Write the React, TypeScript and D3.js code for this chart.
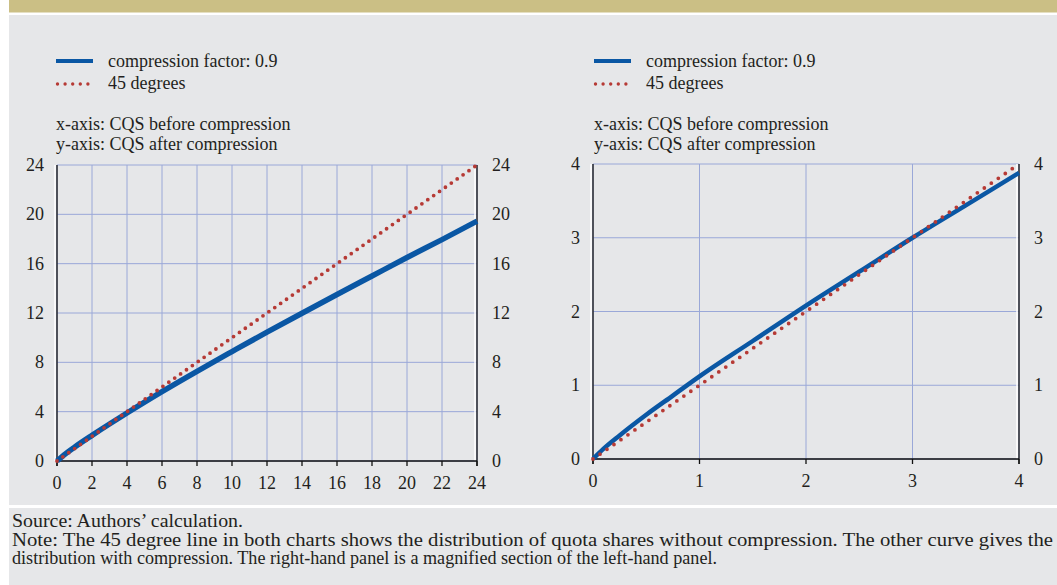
import React from 'react';
import * as d3 from 'd3';

// values
const leftX = [0, 0.5, 1, 2, 3, 4, 6, 8, 10, 12, 14, 16, 18, 20, 22, 24];
const leftY = [0, 0.6, 1.12, 2.08, 3.0, 3.89, 5.62, 7.27, 8.87, 10.45, 11.98, 13.5, 15.0, 16.5, 17.95, 19.45];
const rightX = [0, 0.1, 0.25, 0.5, 0.75, 1, 1.5, 2, 2.5, 3, 3.5, 4];
const rightY = [0, 0.14, 0.32, 0.6, 0.86, 1.12, 1.6, 2.08, 2.54, 3.0, 3.44, 3.88];
const leftTicksX = [0, 2, 4, 6, 8, 10, 12, 14, 16, 18, 20, 22, 24];
const leftTicksY = [0, 4, 8, 12, 16, 20, 24];
const rightTicksX = [0, 1, 2, 3, 4];
const rightTicksY = [0, 1, 2, 3, 4];
const seriesNames = ['compression factor: 0.9', '45 degrees'];
const axisNotes = ['x-axis: CQS before compression', 'y-axis: CQS after compression'];
const footerLines = [
  'Source: Authors\u2019 calculation.',
  'Note: The 45 degree line in both charts shows the distribution of quota shares without compression. The other curve gives the',
  'distribution with compression. The right-hand panel is a magnified section of the left-hand panel.',
];

const BLUE = '#0a57a4';
const RED = '#b63a35';
const GRID = '#9aa8d8';
const TEXT = '#231f20';
const FONT = 'Liberation Serif, Times New Roman, serif';

type PanelProps = {
  xs: number[];
  ys: number[];
  max: number;
  ticksX: number[];
  ticksY: number[];
  x0: number;
  x1: number;
  y0: number;
  y1: number;
  lineW: number;
  dotGap: number;
};

const Panel: React.FC<PanelProps> = ({ xs, ys, max, ticksX, ticksY, x0, x1, y0, y1, lineW, dotGap }) => {
  const x = d3.scaleLinear().domain([0, max]).range([x0, x1]);
  const y = d3.scaleLinear().domain([0, max]).range([y0, y1]);
  const curve = d3.line<number>()
    .x((d) => x(d))
    .y((_, i) => y(ys[i]))
    .curve(d3.curveMonotoneX);
  const diag = d3.line<number>().x((d) => x(d)).y((d) => y(d));

  return (
    <g>
      {ticksX.map((t) => (
        <line key={'gx' + t} x1={x(t)} x2={x(t)} y1={y0} y2={y1} stroke={GRID} strokeWidth={1} />
      ))}
      {ticksY.map((t) => (
        <line key={'gy' + t} x1={x0} x2={x1} y1={y(t)} y2={y(t)} stroke={GRID} strokeWidth={1} />
      ))}
      {/* axis frame */}
      <line x1={x0 - 2} x2={x0 - 2} y1={y1} y2={y0} stroke="#fff" strokeWidth={1.5} />
      <line x1={x1 - 2} x2={x1 - 2} y1={y1} y2={y0} stroke="#fff" strokeWidth={1.5} />
      <line x1={x0} x2={x0} y1={y1} y2={y0 + 5} stroke="#111" strokeWidth={1.3} />
      <line x1={x1} x2={x1} y1={y1} y2={y0 + 5} stroke="#111" strokeWidth={1.3} />
      <line x1={x0} x2={x1} y1={y0} y2={y0} stroke="#111" strokeWidth={1.3} />
      {ticksX.map((t) => (
        <line key={'tx' + t} x1={x(t)} x2={x(t)} y1={y0} y2={y0 + 5} stroke="#111" strokeWidth={1.3} />
      ))}
      {ticksX.map((t) => (
        <text key={'lx' + t} x={x(t)} y={y0 + 28} textAnchor="middle" fontSize={18} fill={TEXT}>{t}</text>
      ))}
      {ticksY.map((t) => (
        <text key={'ly' + t} x={x0 - 13} y={y(t) + 6} textAnchor="end" fontSize={18} fill={TEXT}>{t}</text>
      ))}
      {ticksY.map((t) => (
        <text key={'ry' + t} x={x1 + 15} y={y(t) + 6} textAnchor="start" fontSize={18} fill={TEXT}>{t}</text>
      ))}
      <path d={curve(xs)!} fill="none" stroke={BLUE} strokeWidth={lineW} />
      <path d={diag([0, max])!} fill="none" stroke={RED} strokeWidth={3.8}
        strokeDasharray={`0 ${dotGap}`} strokeLinecap="round" />
    </g>
  );
};

const Legend: React.FC<{ left: number }> = ({ left }) => (
  <g fontSize={18} fill={TEXT}>
    <line x1={left} x2={left + 37} y1={61} y2={61} stroke={BLUE} strokeWidth={4} />
    <line x1={left + 1.5} x2={left + 37} y1={84} y2={84} stroke={RED} strokeWidth={3.4}
      strokeDasharray="0 7.6" strokeLinecap="round" />
    <text x={left + 52} y={67}>{seriesNames[0]}</text>
    <text x={left + 52} y={89}>{seriesNames[1]}</text>
    <text x={left} y={130}>{axisNotes[0]}</text>
    <text x={left} y={150}>{axisNotes[1]}</text>
  </g>
);

export default function App() {
  return (
    <svg width={1057} height={585} style={{ position: 'absolute', left: 0, top: 0 }} fontFamily={FONT}>
      <rect x={0} y={0} width={1057} height={585} fill="#fff" />
      <rect x={9} y={0} width={1048} height={12.5} fill="#cbbf85" />
      <rect x={9} y={15} width={1048} height={490} fill="#e6e7e9" />
      <rect x={9} y={508} width={1048} height={77} fill="#e6e7e9" />

      <Legend left={56} />
      <Legend left={594} />

      <Panel xs={leftX} ys={leftY} max={24} ticksX={leftTicksX} ticksY={leftTicksY}
        x0={57} x1={477} y0={461} y1={165} lineW={5.5} dotGap={7.2} />
      <Panel xs={rightX} ys={rightY} max={4} ticksX={rightTicksX} ticksY={rightTicksY}
        x0={593} x1={1019} y0={459} y1={164} lineW={4.5} dotGap={8.5} />

      <g fontSize={18} fill={TEXT}>
        <text x={12} y={527} textLength={231} lengthAdjust="spacingAndGlyphs">{footerLines[0]}</text>
        <text x={12} y={546} textLength={1041} lengthAdjust="spacingAndGlyphs">{footerLines[1]}</text>
        <text x={12} y={564} textLength={705} lengthAdjust="spacingAndGlyphs">{footerLines[2]}</text>
      </g>
    </svg>
  );
}
